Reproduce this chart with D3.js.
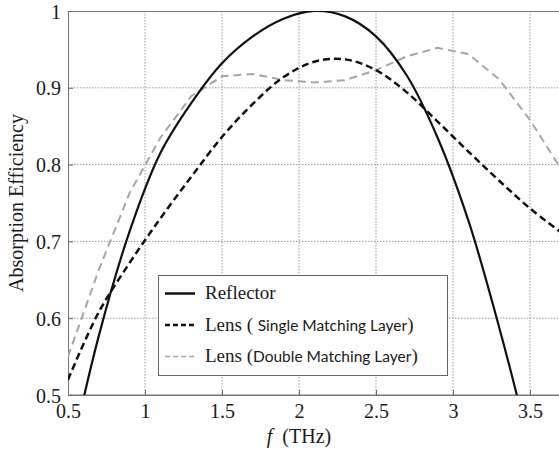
<!DOCTYPE html>
<html><head><meta charset="utf-8">
<script src="https://cdn.jsdelivr.net/npm/d3@7/dist/d3.min.js"></script>
<style>html,body{margin:0;padding:0;background:#fff;}svg{display:block;}</style>
</head><body><div id="chart"></div>
<script>
const freq = [0.5,0.7,0.9,1.1,1.3,1.5,1.7,1.9,2.1,2.3,2.5,2.7,2.9,3.1,3.3,3.5,3.7];
const reflector = [0.406,0.577,0.713,0.815,0.880,0.932,0.967,0.990,1.000,0.993,0.967,0.916,0.835,0.727,0.588,0.430,0.250];
const lensSingle = [0.520,0.608,0.672,0.730,0.784,0.836,0.879,0.914,0.934,0.937,0.923,0.894,0.856,0.817,0.779,0.743,0.712];
const lensDouble = [0.550,0.663,0.763,0.835,0.889,0.915,0.918,0.910,0.907,0.910,0.923,0.941,0.952,0.944,0.911,0.858,0.795];
const xTicks = [0.5,1,1.5,2,2.5,3,3.5];
const yTicks = [0.5,0.6,0.7,0.8,0.9,1];

const W = 559, H = 454;
const svg = d3.select("#chart").append("svg").attr("width",W).attr("height",H);
const x = d3.scaleLinear().domain([0.5,3.7]).range([68,560.8]);
const y = d3.scaleLinear().domain([0.5,1]).range([395,11]);
const serif = "'Liberation Serif','DejaVu Serif',serif";

svg.append("defs").append("clipPath").attr("id","clip")
  .append("rect").attr("x",68).attr("y",11).attr("width",493).attr("height",384);

// grid
const grid = svg.append("g");
grid.selectAll(".gx").data(xTicks.slice(1)).join("line")
  .attr("x1",d=>x(d)).attr("x2",d=>x(d)).attr("y1",11).attr("y2",395)
  .attr("stroke","#9a9a9a").attr("stroke-width",1).attr("stroke-dasharray","1.5,1.5");
grid.selectAll(".gy").data(yTicks.slice(1,-1)).join("line")
  .attr("x1",68).attr("x2",561).attr("y1",d=>y(d)).attr("y2",d=>y(d))
  .attr("stroke","#9a9a9a").attr("stroke-width",1).attr("stroke-dasharray","1.5,1.5");

// frame
svg.append("rect").attr("x",68.5).attr("y",11.5).attr("width",493).attr("height",383.5)
  .attr("fill","none").attr("stroke","#777").attr("stroke-width",1);

// axes
const xa = svg.append("g").attr("transform","translate(0,395)")
  .call(d3.axisBottom(x).tickValues(xTicks).tickFormat(d3.format("")).tickSize(-5).tickPadding(9));
const ya = svg.append("g").attr("transform","translate(68,0)")
  .call(d3.axisLeft(y).tickValues(yTicks).tickFormat(d3.format("")).tickSize(-5).tickPadding(7));
[xa,ya].forEach(a=>{
  a.select(".domain").attr("stroke","#777");
  a.selectAll(".tick line").attr("stroke","#666");
  a.selectAll(".tick text").attr("font-family",serif).attr("font-size",20).attr("fill","#1a1a1a");
});
ya.selectAll(".tick text").attr("dy","0.35em");

// lines
const plot = svg.append("g").attr("clip-path","url(#clip)");
const mk = (vals, curve) => d3.line().curve(curve).x((d,i)=>x(freq[i])).y(d=>y(d))(vals);
plot.append("path").attr("d",mk(lensDouble, d3.curveLinear)).attr("fill","none")
  .attr("stroke","#a6a6a6").attr("stroke-width",2).attr("stroke-dasharray","8,5");
plot.append("path").attr("d",mk(lensSingle, d3.curveCatmullRom.alpha(0.5))).attr("fill","none")
  .attr("stroke","#111").attr("stroke-width",2.5).attr("stroke-dasharray","7,4");
plot.append("path").attr("d",mk(reflector, d3.curveCatmullRom.alpha(0.5))).attr("fill","none")
  .attr("stroke","#111").attr("stroke-width",2.2);

// legend
const lg = svg.append("g");
lg.append("rect").attr("x",158.5).attr("y",275.5).attr("width",289).attr("height",100)
  .attr("fill","#fff").attr("stroke","#666").attr("stroke-width",1);
const rows = [
  {y:293.5, stroke:"#111", w:2.5, dash:null},
  {y:325, stroke:"#111", w:2.5, dash:"5,3"},
  {y:356.5, stroke:"#a6a6a6", w:1.6, dash:"5,3"}
];
rows.forEach(r=>{
  lg.append("line").attr("x1",165).attr("x2",195).attr("y1",r.y).attr("y2",r.y)
    .attr("stroke",r.stroke).attr("stroke-width",r.w).attr("stroke-dasharray",r.dash);
});
lg.append("text").attr("x",205).attr("y",298.5).attr("font-family",serif).attr("font-size",19)
  .attr("fill","#1a1a1a").text("Reflector");
const sans = "Lato,'Open Sans',sans-serif";
const t2 = lg.append("text").attr("x",205).attr("y",330.5).attr("fill","#1a1a1a");
t2.append("tspan").attr("font-family",serif).attr("font-size",19).text("Lens (\u00a0");
t2.append("tspan").attr("font-family",sans).attr("font-size",15.5).text("Single Matching Layer");
t2.append("tspan").attr("font-family",serif).attr("font-size",19).text(")");
const t3 = lg.append("text").attr("x",205).attr("y",362).attr("fill","#1a1a1a");
t3.append("tspan").attr("font-family",serif).attr("font-size",19).text("Lens (");
t3.append("tspan").attr("font-family",sans).attr("font-size",15.5).text("Double Matching Layer");
t3.append("tspan").attr("font-family",serif).attr("font-size",19).text(")");

// axis titles
const xt = svg.append("text").attr("x",299).attr("y",443).attr("text-anchor","middle")
  .attr("font-family",serif).attr("font-size",20).attr("fill","#1a1a1a");
xt.append("tspan").attr("font-style","italic").text("f");
xt.append("tspan").text("\u00a0\u00a0(THz)");
svg.append("text").attr("transform","translate(23,203) rotate(-90)").attr("text-anchor","middle")
  .attr("font-family",serif).attr("font-size",20).attr("fill","#1a1a1a").text("Absorption Efficiency");
</script></body></html>
